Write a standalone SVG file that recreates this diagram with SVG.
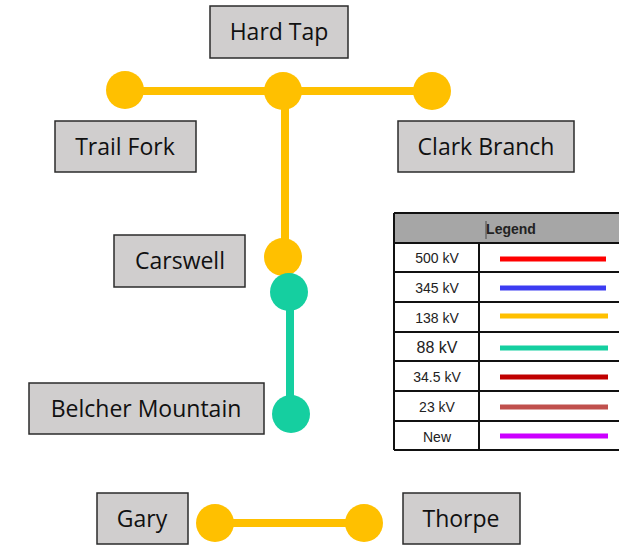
<svg xmlns="http://www.w3.org/2000/svg" width="619" height="545" viewBox="0 0 619 545">
<style>
.box{fill:#d0cece;stroke:#2b2b2b;stroke-width:1.5}
.lbl{font-family:"Open Sans","Noto Sans",sans-serif;font-size:23px;fill:#111;text-anchor:middle}
.y{stroke:#ffc000;stroke-width:8;fill:none}
.t{stroke:#15cfa0;stroke-width:8;fill:none}
.yc{fill:#ffc000}
.tc{fill:#15cfa0}
.lg{font-family:"Liberation Sans",Arial,sans-serif;font-size:14px;fill:#222;text-anchor:middle}
.grid{stroke:#111;stroke-width:2;fill:none}
</style>
<rect width="619" height="545" fill="#fff"/>
<g id="connectors">
<line class="y" x1="125" y1="91" x2="432" y2="91"/>
<line class="y" x1="285" y1="91" x2="285" y2="257"/>
<line class="t" x1="290" y1="292" x2="290" y2="414"/>
<line class="y" x1="215" y1="523" x2="364" y2="523"/>
</g>
<g id="hard-tap"><rect class="box" x="210" y="6" width="138" height="52"/><text class="lbl" x="279" y="40">Hard Tap</text><circle class="yc" cx="283" cy="91" r="19"/></g>
<g id="trail-fork"><rect class="box" x="55" y="121" width="141" height="51"/><text class="lbl" x="125" y="155">Trail Fork</text><circle class="yc" cx="125" cy="90" r="19"/></g>
<g id="clark-branch"><rect class="box" x="398" y="121" width="176" height="51"/><text class="lbl" x="486" y="155">Clark Branch</text><circle class="yc" cx="432" cy="91" r="19"/></g>
<g id="carswell"><rect class="box" x="114" y="235" width="131" height="52"/><text class="lbl" x="180" y="269">Carswell</text><circle class="yc" cx="283" cy="257" r="19"/><circle class="tc" cx="289" cy="292" r="19"/></g>
<g id="belcher-mountain"><rect class="box" x="29" y="383" width="235" height="51"/><text class="lbl" x="146" y="417">Belcher Mountain</text><circle class="tc" cx="291" cy="414" r="19"/></g>
<g id="gary"><rect class="box" x="97" y="493" width="91" height="51"/><text class="lbl" x="142" y="527">Gary</text><circle class="yc" cx="215" cy="523" r="19"/></g>
<g id="thorpe"><rect class="box" x="403" y="493" width="117" height="51"/><text class="lbl" x="461" y="527">Thorpe</text><circle class="yc" cx="364" cy="523" r="19"/></g>
<g id="legend">
<rect x="394" y="213" width="230" height="30" fill="#a6a6a6"/>
<path class="grid" d="M394 213H624M394 243H624M394 272H624M394 302H624M394 332H624M394 361H624M394 391H624M394 421H624M394 450H624M394 213V450M479 243V450"/>
<line x1="486" y1="221" x2="486" y2="239" stroke="#333" stroke-width="0.8"/>
<text x="511" y="234" font-family="'Liberation Sans',Arial,sans-serif" font-size="14" font-weight="bold" fill="#222" text-anchor="middle">Legend</text>
<text class="lg" x="437" y="263">500 kV</text>
<text class="lg" x="437" y="293">345 kV</text>
<text class="lg" x="437" y="323">138 kV</text>
<text class="lg" x="437" y="353" style="font-size:16px">88 kV</text>
<text class="lg" x="437" y="382">34.5 kV</text>
<text class="lg" x="437" y="412">23 kV</text>
<text class="lg" x="437" y="442">New</text>
<line x1="500" y1="259" x2="606" y2="259" stroke="#ff0000" stroke-width="5"/>
<line x1="500" y1="288" x2="606" y2="288" stroke="#3c3cf2" stroke-width="5"/>
<line x1="500" y1="316" x2="608" y2="316" stroke="#ffc000" stroke-width="5"/>
<line x1="500" y1="348" x2="608" y2="348" stroke="#15cfa0" stroke-width="5"/>
<line x1="500" y1="377" x2="608" y2="377" stroke="#c00000" stroke-width="5"/>
<line x1="500" y1="407" x2="608" y2="407" stroke="#c0504d" stroke-width="5"/>
<line x1="500" y1="436" x2="608" y2="436" stroke="#cc00ff" stroke-width="5"/>
</g>
</svg>
